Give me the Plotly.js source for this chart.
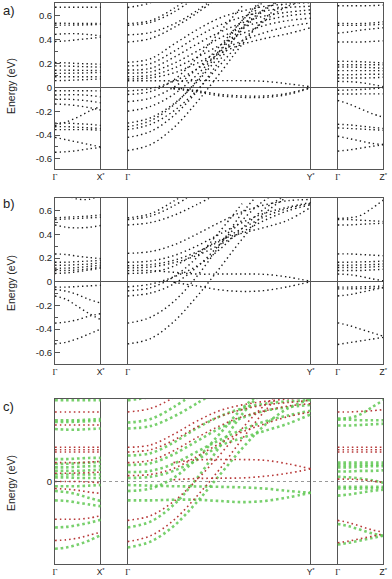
<!DOCTYPE html>
<html>
<head>
<meta charset="utf-8">
<script src="https://cdn.plot.ly/plotly-3.0.1.min.js"></script>
<style>
  html, body { margin: 0; padding: 0; background: #fff; }
  #chart { width: 392px; height: 579px; }
</style>
</head>
<body>
<div id="chart"></div>
<script>
/* Band structures along Γ–X*, Γ–Y*, Γ–Z*, three panels (a, b, c).
   Each band = energies (eV) at the k fractions below; drawn as dotted lines. */

var K_GX = [0, 0.25, 0.5, 0.75, 1];
var K_GY = [0, 0.125, 0.25, 0.375, 0.5, 0.625, 0.75, 0.875, 1];
var K_GZ = [0, 0.25, 0.5, 0.75, 1];

var POINT_LABELS = ["Γ", "X*", "Γ", "Y*", "Γ", "Z*"];
var Y_TICKS = [-0.6, -0.4, -0.2, 0, 0.2, 0.4, 0.6];
var Y_TICK_TEXT = ["-0.6", "-0.4", "-0.2", "0", "0.2", "0.4", "0.6"];

// ---- panel a ----
var A_GX = [
  [0.672, 0.672, 0.672, 0.672, 0.672],
  [0.538, 0.537, 0.536, 0.536, 0.536],
  [0.522, 0.522, 0.523, 0.525, 0.528],
  [0.444, 0.45, 0.45, 0.442, 0.432],
  [0.385, 0.39, 0.40, 0.41, 0.42],
  [0.208, 0.205, 0.2, 0.197, 0.194],
  [0.18, 0.178, 0.175, 0.172, 0.17],
  [0.144, 0.144, 0.143, 0.142, 0.14],
  [0.117, 0.118, 0.12, 0.122, 0.125],
  [0.089, 0.089, 0.089, 0.089, 0.089],
  [0.056, 0.058, 0.062, 0.066, 0.07],
  [-0.028, -0.028, -0.028, -0.029, -0.03],
  [-0.064, -0.062, -0.062, -0.068, -0.08],
  [-0.10, -0.10, -0.105, -0.115, -0.13],
  [-0.14, -0.145, -0.155, -0.17, -0.19],
  [-0.32, -0.29, -0.25, -0.20, -0.16],
  [-0.30, -0.30, -0.305, -0.31, -0.32],
  [-0.33, -0.33, -0.335, -0.34, -0.345],
  [-0.355, -0.355, -0.355, -0.355, -0.36],
  [-0.42, -0.44, -0.46, -0.48, -0.50],
  [-0.545, -0.54, -0.53, -0.515, -0.505]
];
var A_GY = [
  [0.67, 0.71, 0.80, null, null, null, null, null, null],
  [0.535, 0.56, 0.66, 0.80, null, null, null, null, null],
  [0.52, 0.545, 0.63, 0.76, null, null, null, null, null],
  [0.44, 0.46, 0.53, 0.64, 0.78, null, null, null, null],
  [0.38, 0.41, 0.50, 0.62, 0.76, null, null, null, null],
  [0.21, 0.24, 0.36, 0.48, 0.58, 0.64, 0.68, 0.70, 0.71],
  [0.18, 0.20, 0.30, 0.42, 0.52, 0.59, 0.64, 0.67, 0.68],
  [0.145, 0.16, 0.25, 0.36, 0.46, 0.54, 0.60, 0.63, 0.65],
  [0.12, 0.13, 0.20, 0.30, 0.41, 0.50, 0.56, 0.60, 0.62],
  [0.09, 0.10, 0.16, 0.25, 0.35, 0.45, 0.52, 0.56, 0.58],
  [0.07, 0.08, 0.12, 0.20, 0.30, 0.39, 0.46, 0.51, 0.54],
  [-0.03, -0.01, 0.05, 0.15, 0.28, 0.36, 0.41, 0.45, 0.50],
  [0.055, 0.055, 0.055, 0.056, 0.056, 0.056, 0.05, 0.03, 0.005],
  [null, null, -0.012, -0.038, -0.07, -0.084, -0.084, -0.06, -0.005],
  [null, null, -0.006, -0.028, -0.058, -0.072, -0.072, -0.05, 0.0],
  [-0.06, -0.035, 0.06, 0.24, 0.46, 0.68, null, null, null],
  [-0.12, -0.09, 0.0, 0.15, 0.34, 0.56, 0.74, null, null],
  [-0.20, -0.16, -0.06, 0.10, 0.30, 0.50, 0.66, 0.76, null],
  [-0.30, -0.255, -0.14, 0.04, 0.26, 0.48, 0.65, 0.76, null],
  [-0.33, -0.28, -0.15, 0.05, 0.30, 0.56, 0.76, null, null],
  [-0.355, -0.31, -0.20, -0.03, 0.18, 0.39, 0.56, 0.68, 0.74],
  [-0.42, -0.37, -0.24, -0.04, 0.22, 0.50, 0.74, null, null],
  [-0.53, -0.48, -0.34, -0.13, 0.11, 0.36, 0.58, 0.73, null]
];
var A_GZ = [
  [0.684, 0.684, 0.684, 0.686, 0.69],
  [0.535, 0.535, 0.535, 0.54, 0.55],
  [0.52, 0.52, 0.52, 0.525, 0.53],
  [0.455, 0.465, 0.48, 0.49, 0.50],
  [0.38, 0.38, 0.38, 0.385, 0.39],
  [0.218, 0.218, 0.215, 0.21, 0.205],
  [0.19, 0.19, 0.19, 0.19, 0.19],
  [0.17, 0.17, 0.168, 0.165, 0.16],
  [0.14, 0.14, 0.14, 0.14, 0.14],
  [0.106, 0.106, 0.108, 0.11, 0.11],
  [0.078, 0.078, 0.078, 0.08, 0.085],
  [0.05, 0.048, 0.04, 0.025, 0.005],
  [-0.025, -0.022, -0.018, -0.012, -0.005],
  [-0.056, -0.056, -0.055, -0.055, -0.055],
  [-0.11, -0.14, -0.18, -0.22, -0.25],
  [-0.31, -0.315, -0.325, -0.335, -0.345],
  [-0.34, -0.345, -0.35, -0.355, -0.36],
  [-0.41, -0.43, -0.45, -0.47, -0.48],
  [-0.535, -0.525, -0.51, -0.495, -0.48]
];

// ---- panel b ----
var B_GX = [
  [0.78, 0.73, 0.699, 0.697, 0.73],
  [0.54, 0.545, 0.55, 0.555, 0.565],
  [0.525, 0.53, 0.535, 0.54, 0.545],
  [0.48, 0.46, 0.455, 0.46, 0.475],
  [0.235, 0.23, 0.215, 0.205, 0.195],
  [0.165, 0.165, 0.17, 0.175, 0.18],
  [0.14, 0.14, 0.145, 0.15, 0.16],
  [0.115, 0.115, 0.12, 0.13, 0.14],
  [0.095, 0.095, 0.1, 0.11, 0.125],
  [0.07, 0.075, 0.085, 0.1, 0.115],
  [-0.045, -0.045, -0.04, -0.035, -0.03],
  [-0.065, -0.08, -0.11, -0.15, -0.18],
  [-0.12, -0.15, -0.21, -0.27, -0.32],
  [-0.35, -0.34, -0.32, -0.29, -0.27],
  [-0.525, -0.51, -0.48, -0.44, -0.40]
];
var B_GY = [
  [0.54, 0.575, 0.68, 0.80, null, null, null, null, null],
  [0.525, 0.555, 0.64, 0.76, null, null, null, null, null],
  [0.48, 0.50, 0.56, 0.65, 0.75, null, null, null, null],
  [0.24, 0.255, 0.31, 0.40, 0.50, 0.59, 0.65, 0.685, 0.695],
  [0.165, 0.175, 0.22, 0.30, 0.40, 0.50, 0.58, 0.63, 0.67],
  [0.136, 0.145, 0.18, 0.25, 0.34, 0.45, 0.55, 0.62, 0.66],
  [0.117, 0.125, 0.16, 0.22, 0.31, 0.42, 0.52, 0.60, 0.65],
  [0.07, 0.08, 0.13, 0.24, 0.35, 0.41, 0.46, 0.52, 0.63],
  [-0.043, -0.02, 0.04, 0.13, 0.27, 0.45, 0.62, 0.74, null],
  [-0.077, -0.05, 0.04, 0.20, 0.42, 0.66, null, null, null],
  [-0.12, -0.095, -0.02, 0.12, 0.31, 0.52, 0.69, 0.78, null],
  [-0.35, -0.30, -0.17, 0.04, 0.30, 0.58, 0.80, null, null],
  [-0.525, -0.48, -0.34, -0.13, 0.11, 0.36, 0.58, 0.72, null],
  [0.094, 0.094, 0.08, 0.065, 0.065, 0.065, 0.062, 0.04, 0.003],
  [null, null, -0.005, -0.035, -0.068, -0.082, -0.074, -0.042, 0.0]
];
var B_GZ = [
  [0.535, 0.54, 0.56, 0.62, 0.69],
  [0.525, 0.525, 0.52, 0.515, 0.51],
  [0.48, 0.48, 0.485, 0.49, 0.495],
  [0.235, 0.235, 0.23, 0.225, 0.22],
  [0.165, 0.165, 0.168, 0.17, 0.175],
  [0.14, 0.14, 0.142, 0.145, 0.15],
  [0.12, 0.12, 0.12, 0.125, 0.13],
  [0.095, 0.095, 0.095, 0.1, 0.105],
  [0.065, 0.06, 0.045, 0.025, 0.008],
  [-0.045, -0.045, -0.043, -0.04, -0.035],
  [-0.06, -0.06, -0.058, -0.055, -0.05],
  [-0.12, -0.11, -0.09, -0.07, -0.05],
  [-0.347, -0.37, -0.40, -0.43, -0.46],
  [-0.53, -0.515, -0.5, -0.485, -0.47]
];

// ---- panel c (green and red channels) ----
var C_GX_GREEN = [
  [0.69, 0.69, 0.69, 0.69, 0.69],
  [0.52, 0.52, 0.52, 0.525, 0.53],
  [0.505, 0.505, 0.508, 0.512, 0.515],
  [0.445, 0.44, 0.44, 0.445, 0.45],
  [0.19, 0.19, 0.195, 0.2, 0.2],
  [0.15, 0.15, 0.155, 0.16, 0.165],
  [0.12, 0.12, 0.125, 0.13, 0.13],
  [0.09, 0.09, 0.09, 0.095, 0.1],
  [0.06, 0.06, 0.06, 0.06, 0.06],
  [0.035, 0.035, 0.03, 0.03, 0.03],
  [-0.04, -0.04, -0.04, -0.035, -0.03],
  [-0.08, -0.09, -0.11, -0.14, -0.165],
  [-0.16, -0.165, -0.18, -0.195, -0.21],
  [-0.39, -0.385, -0.37, -0.35, -0.325],
  [-0.57, -0.56, -0.535, -0.5, -0.455]
];
var C_GX_RED = [
  [0.59, 0.59, 0.59, 0.59, 0.59],
  [0.48, 0.48, 0.48, 0.48, 0.48],
  [0.29, 0.29, 0.29, 0.29, 0.29],
  [0.27, 0.27, 0.27, 0.27, 0.27],
  [0.25, 0.25, 0.25, 0.25, 0.25],
  [0.16, 0.16, 0.16, 0.165, 0.17],
  [0.07, 0.07, 0.072, 0.075, 0.08],
  [0.0, 0.0, 0.0, -0.005, -0.01],
  [-0.06, -0.065, -0.075, -0.09, -0.1],
  [-0.32, -0.32, -0.32, -0.31, -0.29],
  [-0.5, -0.495, -0.48, -0.455, -0.43]
];
var C_GY_GREEN = [
  [0.69, 0.72, 0.80, null, null, null, null, null, null],
  [0.50, 0.53, 0.63, 0.76, null, null, null, null, null],
  [0.45, 0.47, 0.55, 0.66, 0.78, null, null, null, null],
  [0.22, 0.24, 0.33, 0.45, 0.55, 0.62, 0.66, 0.68, 0.69],
  [0.14, 0.155, 0.23, 0.34, 0.45, 0.54, 0.60, 0.63, 0.65],
  [0.08, 0.09, 0.15, 0.25, 0.35, 0.44, 0.51, 0.56, 0.60],
  [0.03, 0.04, 0.09, 0.18, 0.30, 0.37, 0.43, 0.49, 0.57],
  [-0.08, -0.06, 0.03, 0.19, 0.40, 0.62, 0.78, null, null],
  [-0.39, -0.34, -0.20, 0.02, 0.29, 0.57, 0.78, null, null],
  [-0.56, -0.51, -0.38, -0.18, 0.05, 0.28, 0.48, 0.62, 0.70],
  [-0.03, -0.035, -0.04, -0.042, -0.045, -0.05, -0.06, -0.08, -0.096],
  [-0.16, -0.16, -0.155, -0.155, -0.165, -0.175, -0.165, -0.135, -0.096]
];
var C_GY_RED = [
  [0.59, 0.62, 0.71, 0.82, null, null, null, null, null],
  [0.29, 0.31, 0.40, 0.51, 0.60, 0.65, 0.68, 0.70, 0.71],
  [0.25, 0.27, 0.35, 0.46, 0.55, 0.61, 0.65, 0.67, 0.69],
  [0.16, 0.18, 0.26, 0.37, 0.47, 0.55, 0.60, 0.64, 0.66],
  [0.05, 0.06, 0.11, 0.21, 0.32, 0.42, 0.49, 0.55, 0.59],
  [-0.33, -0.29, -0.17, 0.01, 0.22, 0.45, 0.65, 0.80, null],
  [-0.51, -0.46, -0.33, -0.13, 0.10, 0.36, 0.60, 0.80, null],
  [null, null, 0.16, 0.183, 0.186, 0.186, 0.18, 0.15, 0.107],
  [null, null, 0.015, 0.025, 0.028, 0.03, 0.045, 0.07, 0.107]
];
var C_GZ_GREEN = [
  [0.535, 0.54, 0.57, 0.63, 0.69],
  [0.525, 0.525, 0.52, 0.52, 0.52],
  [0.475, 0.475, 0.48, 0.485, 0.49],
  [0.16, 0.16, 0.16, 0.16, 0.16],
  [0.14, 0.14, 0.14, 0.14, 0.14],
  [0.12, 0.12, 0.125, 0.13, 0.13],
  [0.085, 0.085, 0.09, 0.09, 0.095],
  [0.04, 0.035, 0.025, 0.01, -0.01],
  [-0.045, -0.045, -0.045, -0.045, -0.045],
  [-0.06, -0.06, -0.06, -0.058, -0.055],
  [-0.12, -0.11, -0.095, -0.08, -0.07],
  [-0.36, -0.38, -0.41, -0.44, -0.46],
  [-0.535, -0.52, -0.5, -0.48, -0.46]
];
var C_GZ_RED = [
  [0.59, 0.59, 0.595, 0.60, 0.61],
  [0.29, 0.29, 0.29, 0.29, 0.29],
  [0.27, 0.27, 0.27, 0.27, 0.27],
  [0.25, 0.25, 0.25, 0.25, 0.25],
  [0.02, 0.02, 0.015, 0.005, -0.01],
  [-0.33, -0.35, -0.38, -0.41, -0.43],
  [-0.52, -0.505, -0.485, -0.465, -0.445]
];

(function () {
  "use strict";

  // k-path layout: segment start/end positions along the shared x axis
  var SEG_GX = [0, 45.7];
  var SEG_GY = [72.7, 255.7];
  var SEG_GZ = [282.7, 328.3];
  var TICK_POS = [SEG_GX[0], SEG_GX[1], SEG_GY[0], SEG_GY[1], SEG_GZ[0], SEG_GZ[1]];

  var AXIS_COLOR = "#555";
  var BLACK_DOTS = { color: "#1a1a1a", width: 1.4, dash: "1.4px,3.1px", shape: "spline" };
  var GREEN_DOTS = { color: "rgba(96,200,84,0.85)", width: 2.6, dash: "2.6px,2.9px", shape: "spline" };
  var RED_DOTS = { color: "#b83a3a", width: 1.6, dash: "1.6px,3.1px", shape: "spline" };

  function toPath(ks, seg) {
    return ks.map(function (k) { return seg[0] + k * (seg[1] - seg[0]); });
  }

  function addBands(traces, bands, ks, seg, n, style) {
    var xs = toPath(ks, seg);
    bands.forEach(function (b) {
      traces.push({
        type: "scatter", mode: "lines",
        x: xs, y: b,
        xaxis: "x" + (n === 1 ? "" : n), yaxis: "y" + (n === 1 ? "" : n),
        line: style, connectgaps: false,
        hoverinfo: "skip", showlegend: false
      });
    });
  }

  var traces = [];
  addBands(traces, A_GX, K_GX, SEG_GX, 1, BLACK_DOTS);
  addBands(traces, A_GY, K_GY, SEG_GY, 1, BLACK_DOTS);
  addBands(traces, A_GZ, K_GZ, SEG_GZ, 1, BLACK_DOTS);
  addBands(traces, B_GX, K_GX, SEG_GX, 2, BLACK_DOTS);
  addBands(traces, B_GY, K_GY, SEG_GY, 2, BLACK_DOTS);
  addBands(traces, B_GZ, K_GZ, SEG_GZ, 2, BLACK_DOTS);
  addBands(traces, C_GX_GREEN, K_GX, SEG_GX, 3, GREEN_DOTS);
  addBands(traces, C_GY_GREEN, K_GY, SEG_GY, 3, GREEN_DOTS);
  addBands(traces, C_GZ_GREEN, K_GZ, SEG_GZ, 3, GREEN_DOTS);
  addBands(traces, C_GX_RED, K_GX, SEG_GX, 3, RED_DOTS);
  addBands(traces, C_GY_RED, K_GY, SEG_GY, 3, RED_DOTS);
  addBands(traces, C_GZ_RED, K_GZ, SEG_GZ, 3, RED_DOTS);

  var W = 392, H = 579;
  var X_DOMAIN = [55 / W, 383.3 / W];

  // Γ in serif (axis font); X*, Y*, Z* in sans with a small superscript star
  function tickText() {
    return POINT_LABELS.map(function (t) {
      if (t.length === 1) return t;
      return '<span style="font-family:Liberation Sans, Arial, sans-serif">' +
        t.charAt(0) + '<sup>*</sup></span>';
    });
  }

  function xAxis(anchor) {
    return {
      domain: X_DOMAIN, anchor: anchor,
      range: [TICK_POS[0], TICK_POS[5]],
      tickmode: "array", tickvals: TICK_POS, ticktext: tickText(),
      ticks: "", showgrid: true, gridcolor: AXIS_COLOR, gridwidth: 1,
      showline: true, mirror: true, linecolor: AXIS_COLOR, linewidth: 1,
      zeroline: false, fixedrange: true,
      tickfont: { family: "Liberation Serif, Times New Roman, serif", size: 8.5, color: "#222" }
    };
  }

  function yAxis(top, bottom, range, anchor, vals, text, zero) {
    return {
      domain: [1 - bottom / H, 1 - top / H], anchor: anchor, range: range,
      tickmode: "array", tickvals: vals, ticktext: text,
      ticks: "inside", ticklen: 5, tickwidth: 1, tickcolor: AXIS_COLOR,
      minor: vals.length > 1 ? { tickmode: "linear", tick0: 0, dtick: 0.1, ticks: "inside", ticklen: 3, tickcolor: AXIS_COLOR, showgrid: false } : undefined,
      showgrid: false, showline: true, mirror: true, linecolor: AXIS_COLOR, linewidth: 1,
      zeroline: zero, zerolinecolor: AXIS_COLOR, zerolinewidth: 1, fixedrange: true,
      tickfont: { family: "Liberation Sans, Arial, sans-serif", size: 9.5, color: "#222" }
    };
  }

  function label(text, px, py, size, angle) {
    return {
      xref: "paper", yref: "paper", x: px / W, y: 1 - py / H,
      xanchor: angle ? "center" : "left", yanchor: "middle",
      text: text, showarrow: false, textangle: angle || 0,
      font: { family: "Liberation Sans, Arial, sans-serif", size: size, color: "#222" }
    };
  }

  var layout = {
    width: W, height: H,
    margin: { l: 0, r: 0, t: 0, b: 0 },
    paper_bgcolor: "#fff", plot_bgcolor: "#fff",
    showlegend: false,
    xaxis: xAxis("y"),
    xaxis2: xAxis("y2"),
    xaxis3: xAxis("y3"),
    yaxis: yAxis(3.3, 169, [-0.685, 0.705], "x", Y_TICKS, Y_TICK_TEXT, true),
    yaxis2: yAxis(198.3, 364, [-0.695, 0.705], "x2", Y_TICKS, Y_TICK_TEXT, true),
    yaxis3: yAxis(399, 564, [-0.70, 0.70], "x3", [0], ["0"], false),
    shapes: [{
      type: "line", layer: "below",
      xref: "x3 domain", x0: 0, x1: 1, yref: "y3", y0: 0, y1: 0,
      line: { color: "#999", width: 1, dash: "dot" }
    }],
    annotations: [
      label("a)", 1, 10, 13),
      label("b)", 1, 204, 13),
      label("c)", 1, 406, 13),
      label("Energy (eV)", 11, 86, 10.5, -90),
      label("Energy (eV)", 11, 283, 10.5, -90),
      label("Energy (eV)", 11, 483, 10.5, -90)
    ]
  };

  Plotly.newPlot("chart", traces, layout, { staticPlot: true, displayModeBar: false });
})();
</script>
</body>
</html>
